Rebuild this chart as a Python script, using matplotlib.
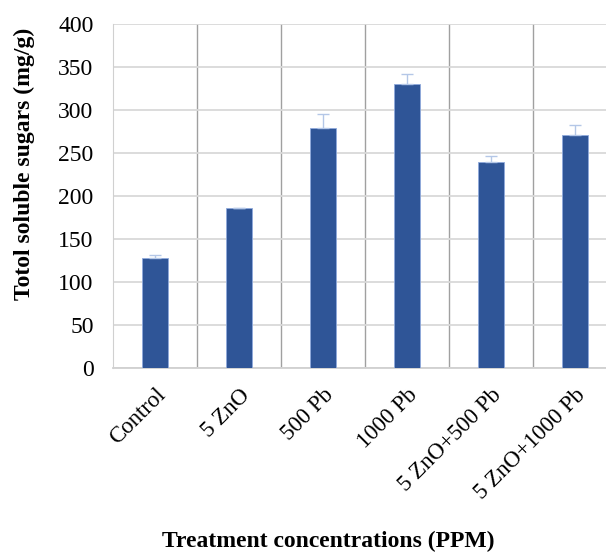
import numpy as np
import matplotlib.pyplot as plt
from matplotlib import rc

rc('font', **{'family': 'serif', 'serif': ['Liberation Serif'], 'size': 16})

treatments = ["Control", "5 ZnO", "500 Pb", "1000 Pb", "5 ZnO+500 Pb", "5 ZnO+1000 Pb"]
sugars = [127.5, 185.5, 278.5, 330, 240, 270.5]
sugars_err = [3.5, 1.0, 16.5, 11.5, 6.0, 11.5]

f = plt.figure(figsize=(6.06, 5.54), dpi=100)
ax = f.add_axes([0.1865, 0.3357, 0.8315, 0.621])

index = np.arange(len(treatments))
ax.bar(index, sugars, 0.31, color='#2f5597', edgecolor='#8faadc', linewidth=0.6,
       yerr=[np.zeros(len(sugars)), sugars_err],
       error_kw={'ecolor': '#b4c7e7', 'elinewidth': 1.0, 'capsize': 4.5, 'capthick': 1.0},
       zorder=3)

ax.set_xlim(-0.5, len(treatments) - 0.5)
ax.set_ylim(0, 400)
ax.set_yticks(np.arange(0, 401, 50))
ax.set_xticks(index)
ax.set_xticklabels(treatments, rotation=45, ha='right', rotation_mode='anchor', fontsize=16.5)
ax.tick_params(length=0)
ax.tick_params(axis='y', pad=14, labelsize=17)
ax.tick_params(axis='x', pad=12)

ax.grid(axis='y', color='#d9d9d9', linewidth=1.3, zorder=0)
for b in np.arange(0.5, len(treatments) - 0.5, 1):
    ax.axvline(b, color='#a0a0a0', linewidth=1.0, zorder=1)

for s in ['top', 'right']:
    ax.spines[s].set_visible(False)
ax.spines['left'].set_color('#d0d0d0')
ax.spines['bottom'].set_color('#d0d0d0')
ax.spines['bottom'].set_linewidth(1.3)

f.text(0.04, 0.705, 'Totol soluble sugars (mg/g)', rotation='vertical',
       ha='center', va='center', fontsize=17, fontweight='bold')
f.text(0.541, 0.022, 'Treatment concentrations (PPM)', ha='center', va='center',
       fontsize=17, fontweight='bold')

plt.savefig('out.png', dpi=100)
